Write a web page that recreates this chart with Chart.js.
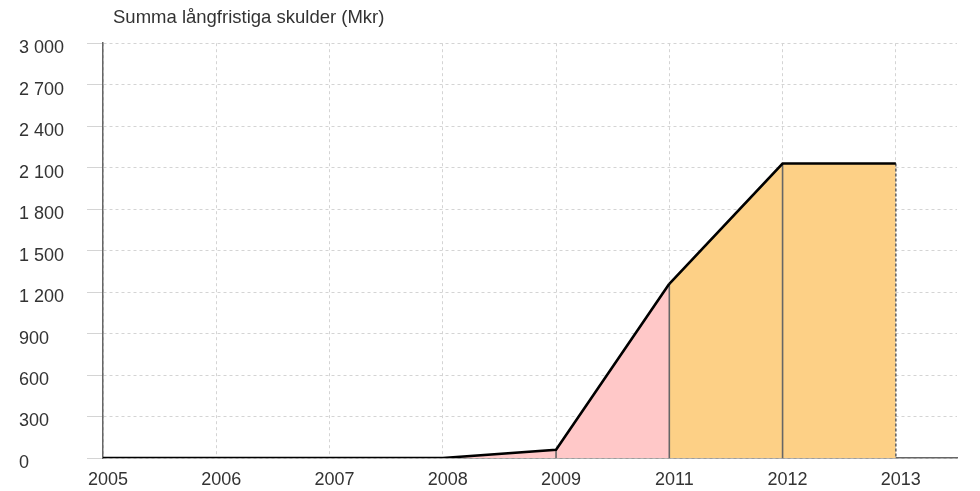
<!DOCTYPE html>
<html>
<head>
<meta charset="utf-8">
<script src="https://cdn.jsdelivr.net/npm/chart.js@4"></script>
<style>
  html, body { margin: 0; padding: 0; background: #fff; }
  #wrap { width: 980px; height: 491px; }
</style>
</head>
<body>
<div id="wrap"><canvas id="chart"></canvas></div>
<script>
// -------------------- Data --------------------
const years = ['2005', '2006', '2007', '2008', '2009', '2011', '2012', '2013'];
const debt = [0, 0, 0, 0, 60, 1260, 2130, 2130];
const yTicks = [0, 300, 600, 900, 1200, 1500, 1800, 2100, 2400, 2700, 3000];
const titleText = 'Summa långfristiga skulder (Mkr)';

const pink = '#ffc8c8';
const orange = '#fdd086';
const fontFamily = 'Liberation Sans, Arial, sans-serif';

// vertical drop lines from points to the base
const dropLines = {
    id: 'dropLines',
    beforeDatasetDraw(chart, args) {
        if (args.index !== 0) return;
        const ctx = chart.ctx;
        const y = chart.scales.y;
        const pts = chart.getDatasetMeta(0).data;
        ctx.save();
        ctx.strokeStyle = '#666';
        ctx.lineWidth = 1.6;
        pts.forEach((p, i) => {
            if (i < 4) return;
            ctx.setLineDash(i === pts.length - 1 ? [3, 2] : []);
            ctx.beginPath();
            ctx.moveTo(p.x, p.y);
            ctx.lineTo(p.x, y.getPixelForValue(0));
            ctx.stroke();
        });
        ctx.restore();
    }
};

// nudge the title a little to the right of the y axis
const titleNudge = {
    id: 'titleNudge',
    afterLayout(chart) {
        if (chart.titleBlock) {
            chart.titleBlock.left += 10;
            chart.titleBlock.right += 10;
        }
    }
};

const fmt = v => String(v).replace(/\B(?=(\d{3})+(?!\d))/g, ' ');

new Chart(document.getElementById('chart'), {
    type: 'line',
    data: {
        datasets: [{
            data: debt.map((v, i) => ({ x: i, y: v })),
            borderColor: '#000',
            borderWidth: 2.6,
            pointRadius: 0,
            fill: 'origin',
            tension: 0,
            segment: {
                backgroundColor: c => c.p0DataIndex >= 5 ? orange : pink
            }
        }]
    },
    options: {
        responsive: true,
        maintainAspectRatio: false,
        animation: false,
        layout: { padding: { left: 19, right: 23, top: 0, bottom: 0 } },
        plugins: {
            legend: { display: false },
            tooltip: { enabled: false },
            title: {
                display: true,
                text: titleText,
                align: 'start',
                fullSize: false,
                color: '#333',
                font: { family: fontFamily, size: 18.5, weight: 'normal' },
                padding: { top: 7, bottom: 14 }
            }
        },
        scales: {
            x: {
                type: 'linear',
                min: 0,
                max: 7.54,
                afterBuildTicks: s => { s.ticks = years.map((_, i) => ({ value: i })); },
                afterFit: s => { s.height = 33; },
                ticks: {
                    callback: v => years[v],
                    color: '#333',
                    padding: 11,
                    labelOffset: 5,
                    maxRotation: 0,
                    font: { family: fontFamily, size: 18 }
                },
                grid: { color: '#d4d4d4', drawTicks: false },
                border: { color: '#666', width: 1.5, dash: [3, 3] }
            },
            y: {
                min: 0,
                max: 3000,
                afterBuildTicks: s => { s.ticks = yTicks.map(v => ({ value: v })); },
                afterFit: s => {
                    s.width = 84;
                    s.paddingBottom = 0;
                },
                ticks: {
                    callback: v => fmt(v),
                    color: '#333',
                    crossAlign: 'far',
                    labelOffset: 5,
                    font: { family: fontFamily, size: 18 }
                },
                grid: { color: '#d4d4d4', tickLength: 16 },
                border: { color: '#666', width: 1.5, dash: [3, 3] }
            }
        }
    },
    plugins: [dropLines, titleNudge]
});
</script>
</body>
</html>
